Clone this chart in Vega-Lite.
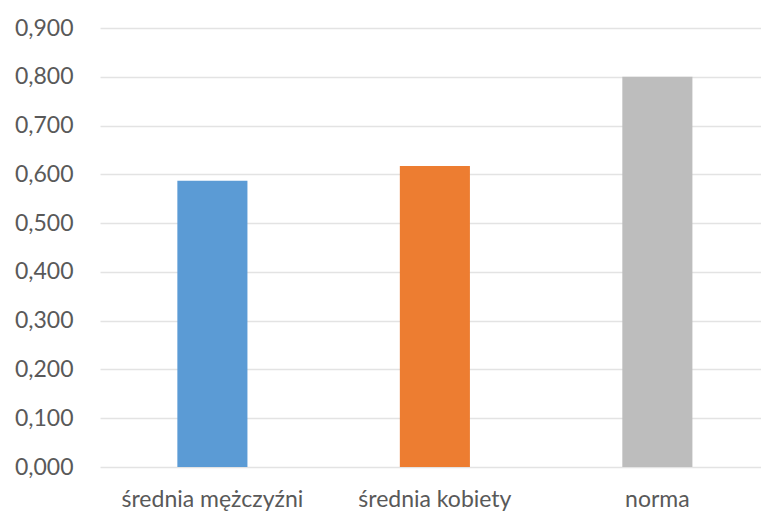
{
  "$schema": "https://vega.github.io/schema/vega-lite/v6.json",
  "autosize": "none",
  "padding": {"left": 100, "top": 28, "right": 0, "bottom": 50},
  "width": 661,
  "height": 439,
  "background": "white",
  "data": {
    "values": [
      {"kategoria": "średnia mężczyźni", "wartosc": 0.587},
      {"kategoria": "średnia kobiety", "wartosc": 0.617},
      {"kategoria": "norma", "wartosc": 0.8}
    ]
  },
  "mark": {"type": "bar"},
  "encoding": {
    "x": {
      "field": "kategoria",
      "type": "nominal",
      "sort": null,
      "scale": {"paddingInner": 0.685, "paddingOuter": 0.328, "align": 0.53},
      "axis": {
        "title": null,
        "labelAngle": 0,
        "labelFont": "Lato",
        "labelFontSize": 23,
        "labelColor": "#595959",
        "labelPadding": 21,
        "labelLimit": 400,
        "ticks": false,
        "domain": false
      }
    },
    "y": {
      "field": "wartosc",
      "type": "quantitative",
      "scale": {"domain": [0, 0.9], "nice": false},
      "axis": {
        "title": null,
        "values": [0, 0.1, 0.2, 0.3, 0.4, 0.5, 0.6, 0.7, 0.8, 0.9],
        "labelExpr": "replace(format(datum.value, '.3f'), '.', ',')",
        "labelFont": "Lato",
        "labelFontSize": 23,
        "labelColor": "#595959",
        "labelPadding": 27,
        "ticks": false,
        "domain": false,
        "grid": true,
        "gridColor": "#e3e3e3",
        "gridWidth": 1.5
      }
    },
    "color": {
      "field": "kategoria",
      "type": "nominal",
      "sort": null,
      "scale": {
        "domain": ["średnia mężczyźni", "średnia kobiety", "norma"],
        "range": ["#5b9bd5", "#ed7d31", "#bdbdbd"]
      },
      "legend": null
    }
  },
  "config": {"view": {"stroke": null}}
}
